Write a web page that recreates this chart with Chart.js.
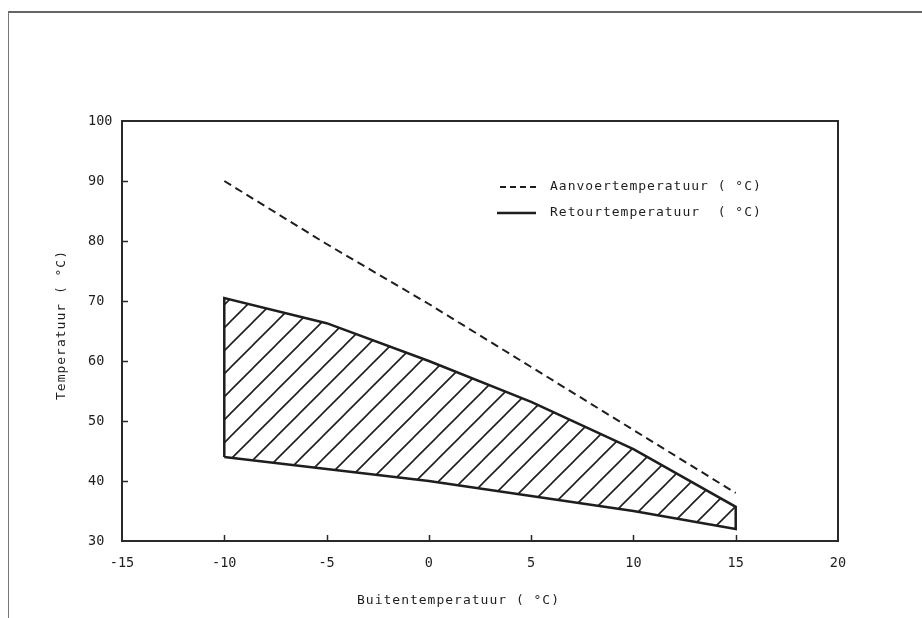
<!DOCTYPE html>
<html>
<head>
<meta charset="utf-8">
<script src="https://cdn.jsdelivr.net/npm/chart.js@4.4.0/dist/chart.umd.min.js"></script>
<style>
  html, body { margin: 0; padding: 0; background: #fff; }
  #wrap { position: relative; width: 922px; height: 618px; overflow: hidden; }
  #frame { position: absolute; left: 8px; top: 11px; right: -4px; bottom: -4px; border-top: 2px solid #666; border-left: 1.5px solid #777; }
  canvas { position: absolute; left: 0; top: 0; }
</style>
</head>
<body>
<div id="wrap"><canvas id="chart" width="922" height="618"></canvas><div id="frame"></div></div>
<script>
(function(){
    // outside temperature (x) and the three curves
    const buitenTemp  = [-10, -5, 0, 5, 10, 15];
    const aanvoerTemp = [90, 79.5, 69.5, 59, 48.5, 38];
    const retourMax   = [70.5, 66.3, 60, 53.2, 45.3, 35.7];
    const retourMin   = [44, 42, 40, 37.5, 35, 32];

    const xTicks = [-15, -10, -5, 0, 5, 10, 15, 20];
    const yTicks = [30, 40, 50, 60, 70, 80, 90, 100];

    const legendLabels = ['Aanvoertemperatuur ( °C)', 'Retourtemperatuur  ( °C)'];
    const xTitle = 'Buitentemperatuur ( °C)';
    const yTitle = 'Temperatuur ( °C)';

    const FONT = '"DejaVu Sans Mono", "Liberation Mono", monospace';
    const INK = '#1e1e1e';

    const hatch = () => {
        const s = 23;
        const c = document.createElement('canvas');
        c.width = c.height = s;
        const g = c.getContext('2d');
        g.strokeStyle = INK;
        g.lineWidth = 1.6;
        g.beginPath();
        g.moveTo(0, s); g.lineTo(s, 0);
        g.moveTo(-s / 2, s / 2); g.lineTo(s / 2, -s / 2);
        g.moveTo(s / 2, s * 1.5); g.lineTo(s * 1.5, s / 2);
        g.stroke();
        return g.createPattern(c, 'repeat');
    };

    const aanvoerPoints = buitenTemp.map((x, i) => ({x: x, y: aanvoerTemp[i]}));

    // closed band: lower edge left->right, upper edge right->left, back to start
    const lower = buitenTemp.map((x, i) => ({x: x, y: retourMin[i]}));
    const upper = buitenTemp.map((x, i) => ({x: x, y: retourMax[i]})).reverse();
    const retourBand = lower.concat(upper, [lower[0]]);

    const frameAndLabels = {
        id: 'frameAndLabels',
        afterDraw(chart) {
            const ctx = chart.ctx;
            const a = chart.chartArea;
            const xs = chart.scales.x, ys = chart.scales.y;
            ctx.save();

            // plot frame
            ctx.strokeStyle = '#2a2a2a';
            ctx.lineWidth = 2;
            ctx.strokeRect(a.left, a.top, a.right - a.left, a.bottom - a.top);

            // inward tick marks
            ctx.lineWidth = 1.5;
            ctx.beginPath();
            yTicks.slice(1, -1).forEach(v => {
                const p = Math.round(ys.getPixelForValue(v)) + 0.5;
                ctx.moveTo(a.left, p); ctx.lineTo(a.left + 6, p);
            });
            xTicks.slice(1, -1).forEach(v => {
                const p = Math.round(xs.getPixelForValue(v)) + 0.5;
                ctx.moveTo(p, a.bottom); ctx.lineTo(p, a.bottom - 6);
            });
            ctx.stroke();

            // legend
            ctx.strokeStyle = INK;
            ctx.lineWidth = 2;
            ctx.setLineDash([6, 4]);
            ctx.beginPath(); ctx.moveTo(500, 187); ctx.lineTo(536, 187); ctx.stroke();
            ctx.setLineDash([]);
            ctx.lineWidth = 2.5;
            ctx.beginPath(); ctx.moveTo(497, 213); ctx.lineTo(536, 213); ctx.stroke();

            ctx.fillStyle = INK;
            ctx.font = '13px ' + FONT;
            ctx.letterSpacing = '1px';
            ctx.textBaseline = 'middle';
            ctx.textAlign = 'left';
            ctx.fillText(legendLabels[0], 550, 187);
            ctx.fillText(legendLabels[1], 550, 213);

            // axis titles
            ctx.fillText(xTitle, 357, 601);
            ctx.translate(62, 325);
            ctx.rotate(-Math.PI / 2);
            ctx.textAlign = 'center';
            ctx.fillText(yTitle, 0, 0);
            ctx.letterSpacing = '0px';
            ctx.restore();
        }
    };

    new Chart(document.getElementById('chart').getContext('2d'), {
        type: 'scatter',
        data: {
            datasets: [{
                label: legendLabels[0],
                data: aanvoerPoints,
                showLine: true,
                borderColor: INK,
                borderWidth: 2,
                borderDash: [8, 5],
                pointRadius: 0,
                fill: false
            }, {
                label: legendLabels[1],
                data: retourBand,
                showLine: true,
                borderColor: INK,
                borderWidth: 2.5,
                backgroundColor: hatch(),
                pointRadius: 0,
                fill: 'shape'
            }]
        },
        options: {
            responsive: false,
            animation: false,
            layout: {padding: {left: 88, top: 121, right: 84, bottom: 47}},
            plugins: {legend: {display: false}, tooltip: {enabled: false}},
            scales: {
                x: {
                    type: 'linear', min: -15, max: 20,
                    afterBuildTicks: s => { s.ticks = xTicks.map(v => ({value: v})); },
                    afterFit: s => { s.height = 30; },
                    grid: {display: false},
                    border: {display: false},
                    ticks: {font: {family: FONT, size: 13.5}, color: INK, padding: 6, maxRotation: 0}
                },
                y: {
                    type: 'linear', min: 30, max: 100,
                    afterBuildTicks: s => { s.ticks = yTicks.map(v => ({value: v})); },
                    afterFit: s => { s.width = 34; },
                    grid: {display: false},
                    border: {display: false},
                    ticks: {font: {family: FONT, size: 13.5}, color: INK, crossAlign: 'far'}
                }
            }
        },
        plugins: [frameAndLabels]
    });
}());
</script>
</body>
</html>
